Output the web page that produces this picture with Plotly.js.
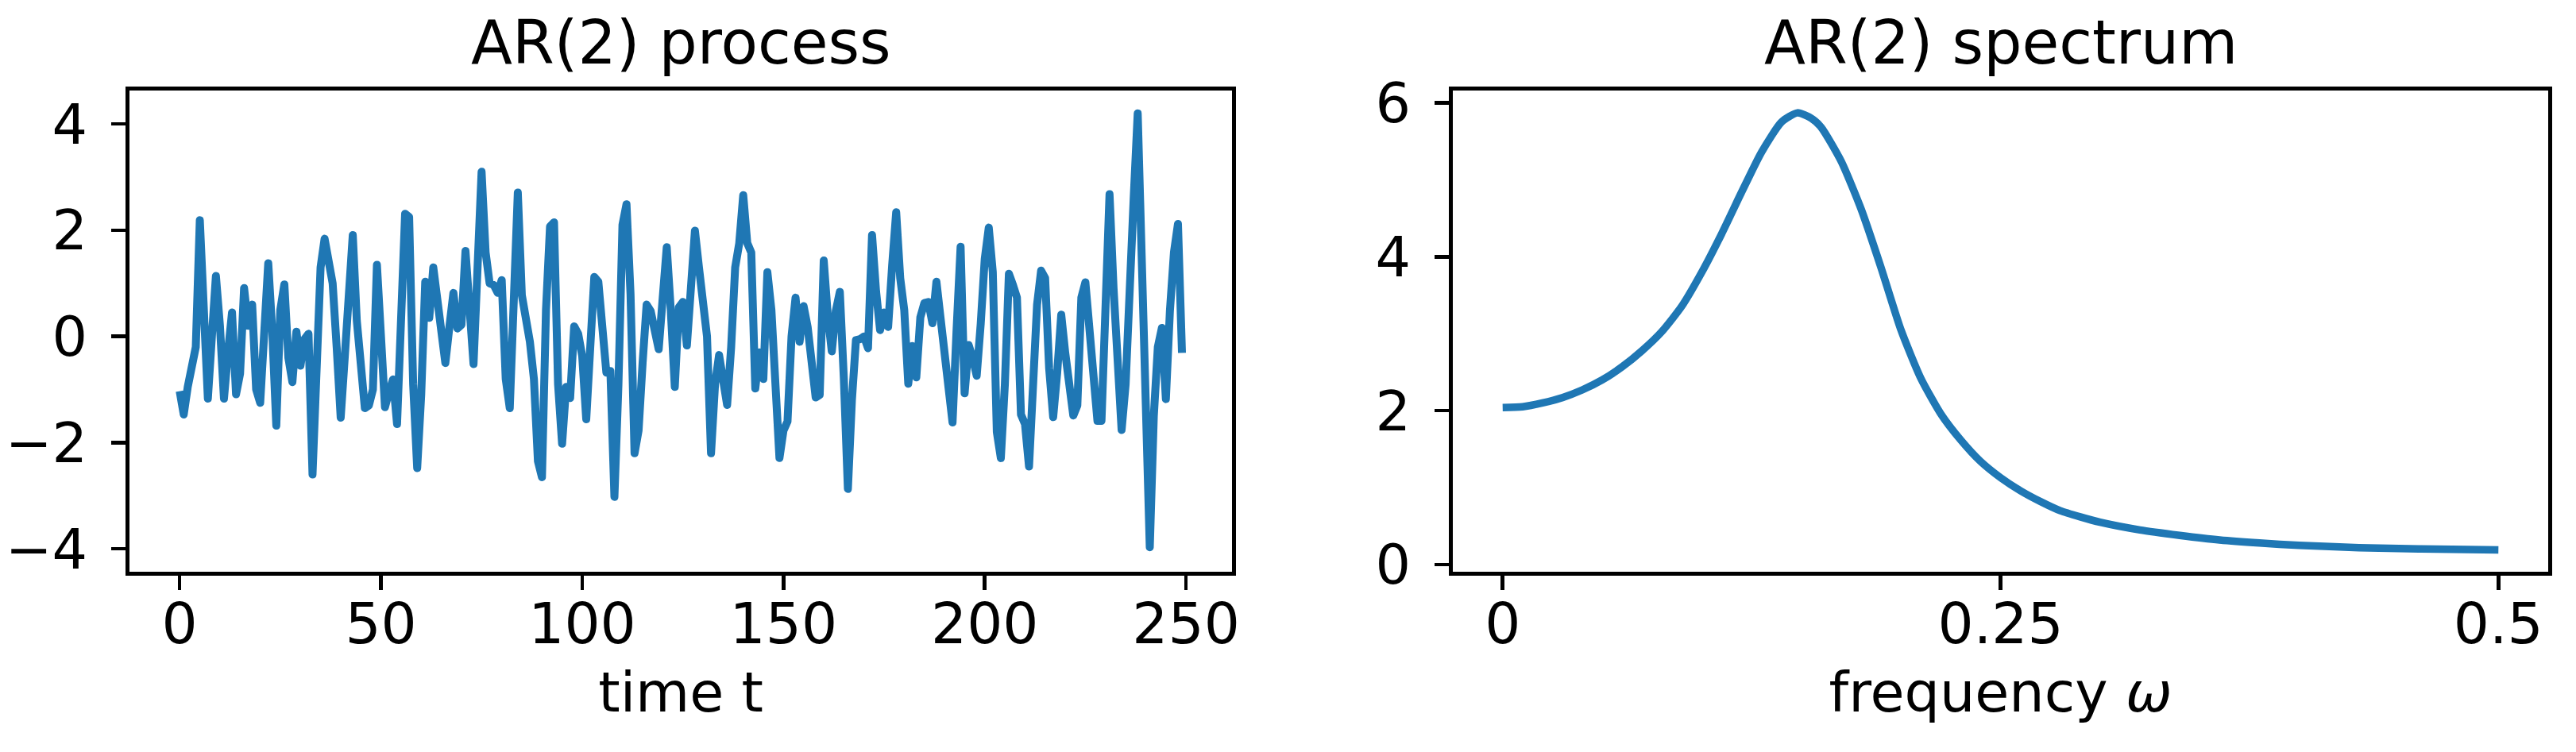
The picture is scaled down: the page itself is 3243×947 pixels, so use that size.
<!DOCTYPE html>
<html>
<head>
<meta charset="utf-8">
<script src="https://cdn.plot.ly/plotly-3.0.1.min.js"></script>
<style>
    html, body { margin: 0; padding: 0; background: #ffffff; }
    #chart { width: 3243px; height: 947px; }
    /* matplotlib joins line segments with round joins */
    .js-line { stroke-linejoin: round !important; }
</style>
</head>
<body>
<div id="chart"></div>
<script>
// AR(2) process, one value per time step t = 0..249
const processValues = [
    -1.03, -1.47, -0.95, -0.6, -0.2, 2.19, 0.0, -1.17, 0.0, 1.14,
    0.2, -1.17, -0.3, 0.45, -1.09, -0.7, 0.91, 0.2, 0.6, -1.0,
    -1.25, 0.0, 1.38, 0.1, -1.68, 0.5, 0.98, -0.4, -0.86, 0.09,
    -0.55, -0.05, 0.05, -2.6, -0.3, 1.3, 1.84, 1.3, 1.0, -0.2,
    -1.53, -0.4, 0.8, 1.91, 0.3, -0.6, -1.35, -1.3, -1.0, 1.35,
    -0.25, -1.33, -1.05, -0.81, -1.65, 0.6, 2.31, 2.25, -0.9, -2.48,
    -1.1, 1.03, 0.35, 1.3, 0.7, 0.1, -0.5, 0.18, 0.82, 0.15,
    0.22, 1.61, 0.3, -0.52, 1.3, 3.1, 1.58, 1.0, 0.97, 0.82,
    1.06, -0.8, -1.35, 0.8, 2.71, 0.78, 0.35, -0.1, -0.8, -2.35,
    -2.65, 0.5, 2.07, 2.15, -0.9, -2.02, -0.95, -1.16, 0.19, 0.05,
    -0.37, -1.56, -0.2, 1.12, 1.03, 0.24, -0.68, -0.65, -3.02, -0.9,
    2.1, 2.49, 0.8, -2.2, -1.77, -0.5, 0.6, 0.48, 0.12, -0.24,
    0.73, 1.68, 0.5, -0.95, 0.55, 0.65, -0.17, 0.8, 1.99, 1.3,
    0.6, 0.0, -2.2, -0.9, -0.35, -0.95, -1.29, -0.2, 1.3, 1.75,
    2.66, 1.76, 1.58, -0.98, -0.3, -0.8, 1.21, 0.5, -1.0, -2.29,
    -1.77, -1.6, 0.0, 0.73, -0.1, 0.57, 0.18, -0.4, -1.15, -1.1,
    1.43, 0.4, -0.28, 0.48, 0.84, -0.8, -2.87, -1.2, -0.07, -0.05,
    0.0, -0.22, 1.91, 0.85, 0.12, 0.45, 0.18, 1.34, 2.34, 1.1,
    0.5, -0.89, -0.18, -0.77, 0.36, 0.63, 0.65, 0.25, 1.03, 0.36,
    -0.37, -1.04, -1.62, 0.12, 1.69, -1.07, -0.16, -0.4, -0.74, 0.24,
    1.46, 2.05, 1.21, -1.8, -2.29, -0.9, 1.18, 0.97, 0.73, -1.47,
    -1.65, -2.45, -1.0, 0.6, 1.24, 1.1, -0.6, -1.52, -0.68, 0.41,
    -0.31, -1.04, -1.49, -1.3, 0.73, 1.02, 0.24, -0.5, -1.59, -1.59,
    0.8, 2.68, 0.91, -0.43, -1.76, -0.9, 1.2, 2.6, 4.2, 1.7,
    -1.8, -3.97, -1.5, -0.2, 0.16, -1.18, 0.48, 1.58, 2.12, -0.31
];
const timeSteps = processValues.map((_, i) => i);

// spectral density of the AR(2) process
const frequencies = [0, 0.01, 0.02, 0.03, 0.04, 0.05, 0.06, 0.07, 0.08, 0.09,
    0.10, 0.11, 0.12, 0.13, 0.14, 0.148, 0.155, 0.16, 0.17, 0.18,
    0.19, 0.20, 0.21, 0.22, 0.23, 0.24, 0.25, 0.26, 0.27, 0.28,
    0.29, 0.30, 0.32, 0.34, 0.36, 0.38, 0.40, 0.43, 0.46, 0.50];
const spectrum = [2.04, 2.05, 2.10, 2.17, 2.27, 2.40, 2.57, 2.78, 3.03, 3.36,
    3.80, 4.30, 4.84, 5.36, 5.75, 5.87, 5.80, 5.68, 5.24, 4.62,
    3.86, 3.05, 2.42, 1.96, 1.62, 1.34, 1.13, 0.96, 0.82, 0.70,
    0.62, 0.55, 0.45, 0.38, 0.32, 0.28, 0.25, 0.22, 0.205, 0.19];

// tick labels
const timeTicks = [0, 50, 100, 150, 200, 250];
const processTicks = [-4, -2, 0, 2, 4];
const freqTicks = [0, 0.25, 0.5];
const freqTickText = ['0', '0.25', '0.5'];
const spectrumTicks = [0, 2, 4, 6];

const blue = '#1f77b4';
const font = 'DejaVu Sans, Verdana, sans-serif';

function axisStyle(extra) {
    return Object.assign({
        showline: true,
        mirror: true,
        linecolor: '#000000',
        linewidth: 5,
        ticks: 'outside',
        ticklen: 18,
        tickwidth: 4.5,
        tickcolor: '#000000',
        showgrid: false,
        zeroline: false,
        tickfont: { family: font, size: 71, color: '#000000' }
    }, extra);
}

const data = [
    {
        x: timeSteps,
        y: processValues,
        type: 'scatter',
        mode: 'lines',
        line: { color: blue, width: 10 },
        xaxis: 'x',
        yaxis: 'y'
    },
    {
        x: frequencies,
        y: spectrum,
        type: 'scatter',
        mode: 'lines',
        line: { color: blue, width: 9.5, shape: 'spline', smoothing: 0.6 },
        xaxis: 'x2',
        yaxis: 'y2'
    }
];

const titleFont = { family: font, size: 76, color: '#000000' };
const labelFont = { family: font, size: 70, color: '#000000' };
const yTickFont = { family: font, size: 70, color: '#000000' };

const layout = {
    width: 3243,
    height: 947,
    margin: { l: 0, r: 0, t: 0, b: 0 },
    paper_bgcolor: '#ffffff',
    plot_bgcolor: '#ffffff',
    showlegend: false,
    xaxis: axisStyle({
        domain: [0.0503, 0.4783],
        range: [-12.45, 261.45],
        tickvals: timeTicks,
        anchor: 'y',
        ticklabelstandoff: -18,
        title: { text: 'time t', font: labelFont, standoff: 22 }
    }),
    yaxis: axisStyle({
        domain: [0.2397, 0.8796],
        range: [-4.43, 4.63],
        tickvals: processTicks,
        anchor: 'x',
        tickfont: yTickFont,
        ticklabelstandoff: 16
    }),
    xaxis2: axisStyle({
        domain: [0.564, 0.9892],
        range: [-0.025, 0.525],
        tickvals: freqTicks,
        ticktext: freqTickText,
        anchor: 'y2',
        ticklabelstandoff: -18,
        title: { text: 'frequency <i>ω</i>', font: labelFont, standoff: 22 }
    }),
    yaxis2: axisStyle({
        domain: [0.2397, 0.8796],
        range: [-0.093, 6.16],
        tickvals: spectrumTicks,
        anchor: 'x2',
        tickfont: yTickFont,
        ticklabelstandoff: 16
    }),
    annotations: [
        {
            text: 'AR(2) process',
            xref: 'paper', yref: 'paper',
            x: (0.0503 + 0.4783) / 2, y: 0.943,
            xanchor: 'center', yanchor: 'middle',
            showarrow: false,
            font: titleFont
        },
        {
            text: 'AR(2) spectrum',
            xref: 'paper', yref: 'paper',
            x: (0.564 + 0.9892) / 2, y: 0.943,
            xanchor: 'center', yanchor: 'middle',
            showarrow: false,
            font: titleFont
        }
    ]
};

Plotly.newPlot('chart', data, layout, { staticPlot: true });
</script>
</body>
</html>
